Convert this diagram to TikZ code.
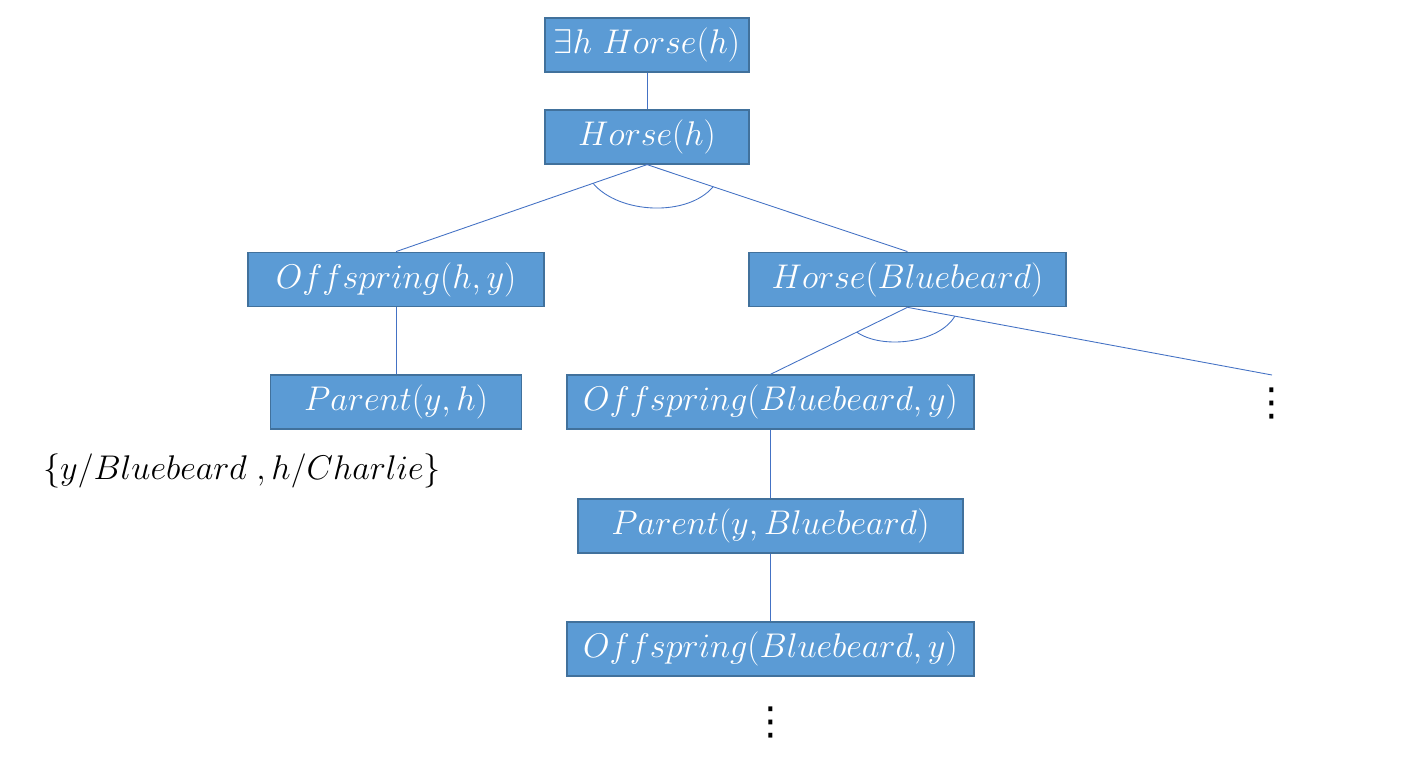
\documentclass[tikz,border=0pt]{standalone}
\usepackage{fix-cm}
\usepackage{fontspec}
\newfontfamily\dejavu{DejaVu Sans}
\usetikzlibrary{positioning,calc}
\definecolor{boxfill}{HTML}{5B9BD5}
\definecolor{boxline}{HTML}{41719C}
\definecolor{edgeline}{HTML}{4472C4}
\tikzstyle{block} = [draw=boxline, fill=boxfill, line width=1pt, rectangle, minimum height=1.08cm, text=white, inner sep=0pt]
\tikzstyle{edge} = [draw=edgeline, line width=0.5pt]
\tikzstyle{andarc} = [edge, out=-50, in=-130]
\tikzstyle{more dots} = [inner sep=0pt, font=\dejavu\fontsize{22}{22}\selectfont]

\begin{document}
\begin{tikzpicture}[x=0.02cm, y=0.02cm, font=\fontsize{19.5}{23}\selectfont]
		\useasboundingbox (0,0) rectangle (1411,-761);
		\node [block, minimum width=4.08cm] (exists) at (647,-45) {$\exists h\ Horse(h)$};
		\node [block, minimum width=4.08cm, below=0.72cm of exists] (horse) {$Horse(h)$};
		\node [block, minimum width=5.92cm, below=1.74cm of horse, xshift=-5.02cm] (offh) {$Offspring(h,y)$};
		\node [block, minimum width=6.34cm, below=1.74cm of horse, xshift=5.21cm] (horseb) {$Horse(Bluebeard)$};
		\node [block, minimum width=5.02cm, below=1.34cm of offh] (parh) {$Parent(y,h)$};
		\node [block, minimum width=8.14cm, below=1.34cm of horseb, xshift=-2.74cm] (offb) {$Offspring(Bluebeard,y)$};
		\node [block, minimum width=7.7cm, below=1.36cm of offb] (parb) {$Parent(y,Bluebeard)$};
		\node [block, minimum width=8.14cm, below=1.34cm of parb] (offb2) {$Offspring(Bluebeard,y)$};
		\node (subst) at (242,-471) {$\{y/Bluebeard\;,h/Charlie\}$};
		\coordinate (more) at (1272,-375);
		\node [more dots, below=0.26cm of more] (dotsr) {⋮};
		\node [more dots, below=0.6cm of offb2] (dotsb) {⋮};

		\draw [edge] (exists) -- (horse);
		\draw [edge] (horse.south) -- (offh.north);
		\draw [edge] (horse.south) -- (horseb.north);
		\draw [edge] (offh) -- (parh);
		\draw [edge] (horseb.south) -- (offb.north);
		\draw [edge] (horseb.south) -- (more);
		\draw [edge] (offb) -- (parb);
		\draw [edge] (parb) -- (offb2);

		% and-arcs
		\coordinate (a1) at ($(horse.south)!0.215!(offh.north)$);
		\coordinate (a2) at ($(horse.south)!0.254!(horseb.north)$);
		\draw [andarc, looseness=0.85] (a1) to (a2);
		\coordinate (a3) at ($(horseb.south)!0.37!(offb.north)$);
		\coordinate (a4) at ($(horseb.south)!0.13!(more)$);
		\draw [andarc, out=-35, in=-120, looseness=0.8] (a3) to (a4);
	\end{tikzpicture}
\end{document}
